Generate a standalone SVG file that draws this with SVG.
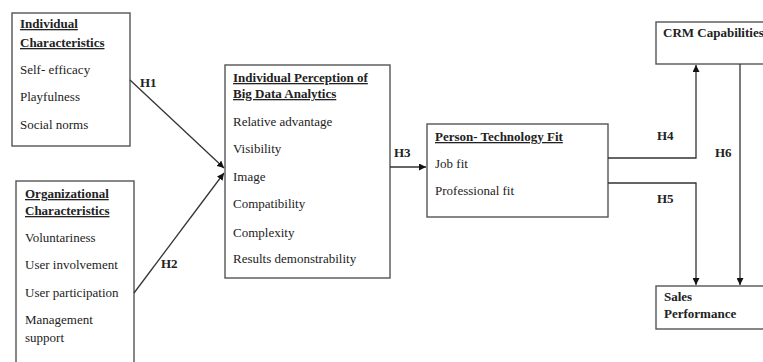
<svg xmlns="http://www.w3.org/2000/svg" width="763" height="362" viewBox="0 0 763 362">
  <style>
    .box { fill: #ffffff; stroke: #555555; stroke-width: 1.4; }
    .t { font-family: "Liberation Serif", "Times New Roman", serif; font-size: 13px; fill: #222222; }
    .h { font-weight: bold; text-decoration: underline; }
    .b { font-weight: bold; }
    .link { fill: none; stroke: #333333; stroke-width: 1.3; }
  </style>
  <defs>
    <marker id="arrow" viewBox="0 0 10 10" refX="10" refY="5" markerWidth="7" markerHeight="7" markerUnits="userSpaceOnUse" orient="auto">
      <path d="M0,0 L10,5 L0,10 z" fill="#111111"/>
    </marker>
  </defs>
  <rect width="763" height="362" fill="#ffffff"/>

  <g id="individual-characteristics">
    <rect class="box" x="12" y="13" width="118" height="133"/>
    <text class="t h" x="20" y="28">Individual</text>
    <text class="t h" x="20" y="47">Characteristics</text>
    <text class="t" x="20" y="74">Self- efficacy</text>
    <text class="t" x="20" y="101">Playfulness</text>
    <text class="t" x="20" y="129">Social norms</text>
  </g>

  <g id="organizational-characteristics">
    <rect class="box" x="16" y="181" width="118" height="200"/>
    <text class="t h" x="25" y="198">Organizational</text>
    <text class="t h" x="25" y="215">Characteristics</text>
    <text class="t" x="25" y="242">Voluntariness</text>
    <text class="t" x="25" y="269">User involvement</text>
    <text class="t" x="25" y="297">User participation</text>
    <text class="t" x="25" y="324">Management</text>
    <text class="t" x="25" y="342">support</text>
  </g>

  <g id="perception">
    <rect class="box" x="225" y="65" width="165" height="213"/>
    <text class="t h" x="233" y="82">Individual Perception of</text>
    <text class="t h" x="233" y="98">Big Data Analytics</text>
    <text class="t" x="233" y="126">Relative advantage</text>
    <text class="t" x="233" y="153">Visibility</text>
    <text class="t" x="233" y="181">Image</text>
    <text class="t" x="233" y="208">Compatibility</text>
    <text class="t" x="233" y="237">Complexity</text>
    <text class="t" x="233" y="263">Results demonstrability</text>
  </g>

  <g id="person-technology-fit">
    <rect class="box" x="427" y="124" width="181" height="93"/>
    <text class="t h" x="435" y="141">Person- Technology Fit</text>
    <text class="t" x="435" y="168">Job fit</text>
    <text class="t" x="435" y="195">Professional fit</text>
  </g>

  <g id="crm-capabilities">
    <rect class="box" x="656" y="22" width="120" height="42"/>
    <text class="t b" x="663" y="37">CRM Capabilities</text>
  </g>

  <g id="sales-performance">
    <rect class="box" x="656" y="286" width="120" height="43"/>
    <text class="t b" x="664" y="301">Sales</text>
    <text class="t b" x="664" y="318">Performance</text>
  </g>

  <g id="connectors">
    <line class="link" x1="130" y1="80" x2="224" y2="168" marker-end="url(#arrow)"/>
    <line class="link" x1="134" y1="293" x2="224" y2="173" marker-end="url(#arrow)"/>
    <line class="link" x1="390" y1="167" x2="426" y2="167" marker-end="url(#arrow)"/>
    <polyline class="link" points="608,158 696,158 696,65" marker-end="url(#arrow)"/>
    <polyline class="link" points="608,183 696,183 696,285" marker-end="url(#arrow)"/>
    <line class="link" x1="740" y1="64" x2="740" y2="285" marker-end="url(#arrow)"/>
    <text class="t b" x="140" y="87">H1</text>
    <text class="t b" x="161" y="268">H2</text>
    <text class="t b" x="394" y="157">H3</text>
    <text class="t b" x="657" y="140">H4</text>
    <text class="t b" x="657" y="203">H5</text>
    <text class="t b" x="715" y="157">H6</text>
  </g>
</svg>
